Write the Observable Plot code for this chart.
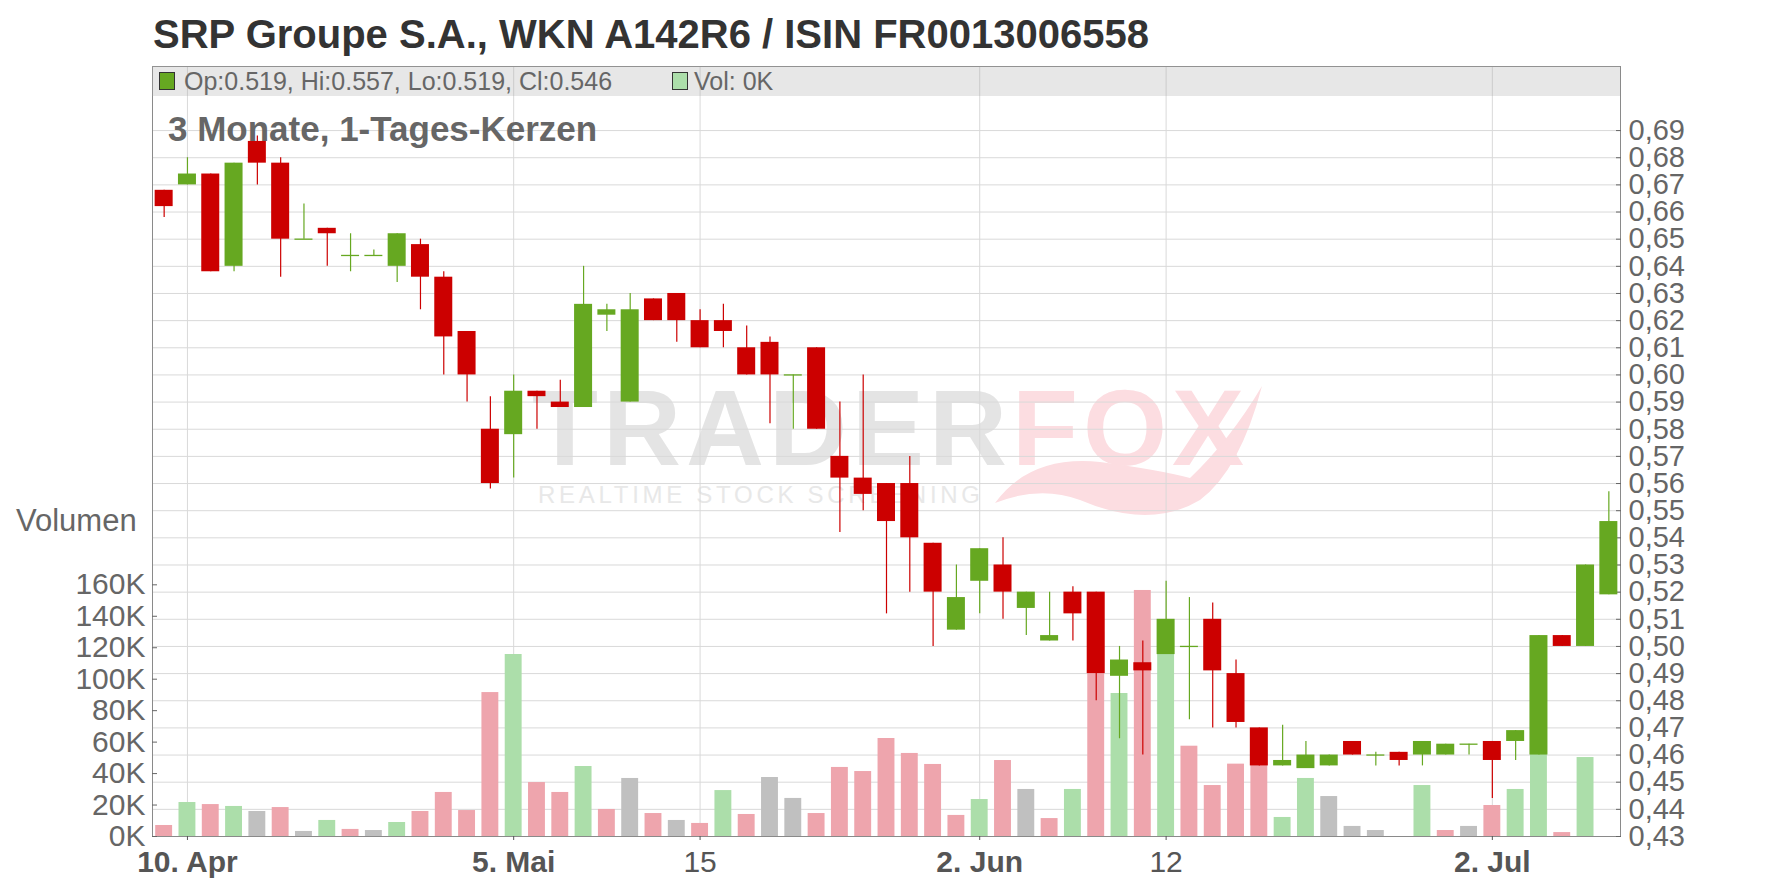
<!DOCTYPE html>
<html>
<head>
<meta charset="utf-8">
<script src="https://cdn.jsdelivr.net/npm/d3@7"></script>
<script src="https://cdn.jsdelivr.net/npm/@observablehq/plot@0.6"></script>
<style>
html,body{margin:0;padding:0;background:#fff;}
body{width:1776px;height:888px;position:relative;overflow:hidden;font-family:"Liberation Sans",Arial,sans-serif;}
#title{position:absolute;left:153px;top:14px;font-size:40px;line-height:40px;font-weight:bold;color:#333;white-space:nowrap;}
#chart{position:absolute;left:0;top:66px;width:1776px;height:822px;}
#chart > svg{position:absolute;left:0;top:0;}
#band{position:absolute;left:152px;top:0;width:1468px;height:30px;background:rgba(170,170,170,0.28);}
.sw{position:absolute;width:16px;height:18px;box-sizing:border-box;border:1px solid #333;}
.lt{position:absolute;font-size:25px;line-height:25px;color:#666;white-space:nowrap;}
#sub{position:absolute;left:168px;top:45px;font-size:35px;line-height:35px;font-weight:bold;color:#666;white-space:nowrap;}
#vollabel{position:absolute;left:16px;top:439px;font-size:31px;line-height:31px;color:#666;white-space:nowrap;}
</style>
</head>
<body>
<div id="title">SRP Groupe S.A., WKN A142R6 / ISIN FR0013006558</div>
<div id="chart">
  <svg id="wm" width="1776" height="822">
    <text x="532" y="399" font-family="Liberation Sans, Arial, sans-serif" font-size="108" font-weight="bold" letter-spacing="5" fill="#e4e4e4">TRADER<tspan fill="#fcdde1">FOX</tspan></text>
    <text x="538" y="436.7" font-family="Liberation Sans, Arial, sans-serif" font-size="24" textLength="442" lengthAdjust="spacing" fill="#e8e8e8">REALTIME STOCK SCREENING</text>
    <path d="M995 437 Q1030 389 1100 396 Q1160 404 1190 412 Q1230 374 1262 320 Q1240 404 1200 434 Q1150 464 1080 434 Q1040 419 995 437 Z" fill="#fcdde1"/>
  </svg>
</div>
<script>
// ---- data ----
const dates = ["2025-04-09","2025-04-10","2025-04-11","2025-04-14","2025-04-15","2025-04-16","2025-04-17","2025-04-22","2025-04-23","2025-04-24","2025-04-25","2025-04-28","2025-04-29","2025-04-30","2025-05-02","2025-05-05","2025-05-06","2025-05-07","2025-05-08","2025-05-09","2025-05-12","2025-05-13","2025-05-14","2025-05-15","2025-05-16","2025-05-19","2025-05-20","2025-05-21","2025-05-22","2025-05-23","2025-05-26","2025-05-27","2025-05-28","2025-05-29","2025-05-30","2025-06-02","2025-06-03","2025-06-04","2025-06-05","2025-06-06","2025-06-09","2025-06-10","2025-06-11","2025-06-12","2025-06-13","2025-06-16","2025-06-17","2025-06-18","2025-06-19","2025-06-20","2025-06-23","2025-06-24","2025-06-25","2025-06-26","2025-06-27","2025-06-30","2025-07-01","2025-07-02","2025-07-03","2025-07-04","2025-07-07","2025-07-08","2025-07-09"];
const open = [0.668,0.670,0.674,0.640,0.686,0.678,0.650,0.654,0.644,0.644,0.640,0.648,0.636,0.616,0.580,0.578,0.594,0.590,0.588,0.622,0.590,0.628,0.630,0.620,0.620,0.610,0.612,0.600,0.610,0.570,0.562,0.560,0.560,0.538,0.506,0.524,0.530,0.514,0.502,0.520,0.520,0.489,0.494,0.497,0.500,0.510,0.490,0.470,0.456,0.455,0.456,0.465,0.460,0.461,0.460,0.460,0.464,0.465,0.465,0.460,0.504,0.500,0.519];
const high = [0.668,0.680,0.674,0.678,0.688,0.680,0.663,0.654,0.652,0.646,0.652,0.650,0.638,0.616,0.592,0.600,0.594,0.598,0.640,0.626,0.630,0.628,0.630,0.624,0.626,0.618,0.614,0.600,0.610,0.590,0.600,0.560,0.570,0.538,0.530,0.536,0.540,0.520,0.520,0.522,0.520,0.500,0.502,0.524,0.518,0.516,0.495,0.470,0.471,0.465,0.460,0.465,0.461,0.461,0.465,0.464,0.464,0.465,0.469,0.504,0.504,0.530,0.557];
const low = [0.658,0.670,0.638,0.638,0.670,0.636,0.650,0.640,0.638,0.644,0.634,0.624,0.600,0.590,0.558,0.562,0.580,0.588,0.588,0.616,0.590,0.620,0.612,0.610,0.610,0.600,0.582,0.580,0.580,0.542,0.550,0.512,0.520,0.500,0.506,0.512,0.510,0.504,0.502,0.502,0.480,0.466,0.460,0.497,0.473,0.470,0.470,0.456,0.456,0.455,0.456,0.460,0.456,0.456,0.456,0.460,0.460,0.444,0.458,0.460,0.500,0.500,0.519];
const close = [0.662,0.674,0.638,0.678,0.678,0.650,0.650,0.652,0.644,0.644,0.652,0.636,0.614,0.600,0.560,0.594,0.592,0.588,0.626,0.624,0.624,0.620,0.620,0.610,0.616,0.600,0.600,0.600,0.580,0.562,0.556,0.546,0.540,0.520,0.518,0.536,0.520,0.520,0.504,0.512,0.490,0.495,0.491,0.510,0.500,0.491,0.472,0.456,0.458,0.460,0.460,0.460,0.460,0.458,0.465,0.464,0.464,0.458,0.469,0.504,0.500,0.530,0.546];
const volume = [7000,21600,20300,19100,15900,18400,3200,10200,4500,3800,8900,15900,28000,16500,91500,115700,34300,28000,44500,17200,36900,14600,10200,8300,29200,14000,37500,24200,14600,43900,41300,62300,52800,45800,13400,23500,48300,29900,11400,29900,130000,90900,156400,125000,57400,32400,46000,55000,12100,36900,25400,6400,3800,0,32400,3800,6400,19700,29900,90000,2500,50200,0];

const priceTicks = [0.43,0.44,0.45,0.46,0.47,0.48,0.49,0.50,0.51,0.52,0.53,0.54,0.55,0.56,0.57,0.58,0.59,0.60,0.61,0.62,0.63,0.64,0.65,0.66,0.67,0.68,0.69];
const volumeTicks = [0,20000,40000,60000,80000,100000,120000,140000,160000];
const xTickDates = ["2025-04-10","2025-05-05","2025-05-15","2025-06-02","2025-06-12","2025-07-02"];
const xTickLabels = ["10. Apr","5. Mai","15","2. Jun","12","2. Jul"];
const xTickBold = [true,true,false,true,false,true];

// ---- styles ----
const UP = "#66a821", DOWN = "#cc0000";
const VOL_UP = "#acdeaa", VOL_DOWN = "#eea5ad", VOL_FLAT = "#c0c0c0";

const data = dates.map((date, i) => {
  const prev = i > 0 ? close[i - 1] : open[i];
  return {
    date, open: open[i], high: high[i], low: low[i], close: close[i], volume: volume[i],
    color: close[i] >= open[i] ? UP : DOWN,
    volColor: close[i] > prev ? VOL_UP : close[i] < prev ? VOL_DOWN : VOL_FLAT
  };
});

const W = 1776, H = 822;
const dims = {width: W, height: H, marginLeft: 152, marginRight: 156, marginTop: 0, marginBottom: 52};
const priceDomain = [0.43, 0.7136];
const volumeDomain = [0, 489500];
const font = "Liberation Sans, Arial, sans-serif";
const svgStyle = {background: "transparent", fontFamily: font, overflow: "visible"};
const xScale = {type: "band", domain: dates, padding: 0, round: false};
const labelOf = d => xTickLabels[xTickDates.indexOf(d)];

// Layer A: grid, frame, price axis, date axis
const layerA = Plot.plot({
  ...dims, style: svgStyle,
  x: xScale,
  y: {domain: priceDomain},
  marks: [
    Plot.gridY({ticks: priceTicks, stroke: "#d9d9d9", strokeOpacity: 1}),
    Plot.gridX({ticks: xTickDates, stroke: "#d9d9d9", strokeOpacity: 1}),
    Plot.frame({stroke: "#8a8a8a"}),
    Plot.axisY({anchor: "right", ticks: priceTicks, tickFormat: d => d.toFixed(2).replace(".", ","),
      tickSize: -5, tickPadding: 13, fontSize: 29, color: "#666", label: null}),
    Plot.axisX({anchor: "bottom", ticks: xTickDates.filter((d, i) => xTickBold[i]), tickFormat: labelOf,
      tickSize: 4, tickPadding: 10, fontSize: 30, fontWeight: "bold", color: "#555", label: null}),
    Plot.axisX({anchor: "bottom", ticks: xTickDates.filter((d, i) => !xTickBold[i]), tickFormat: labelOf,
      tickSize: 4, tickPadding: 10, fontSize: 30, color: "#555", label: null})
  ]
});

// Layer B: volume
const layerB = Plot.plot({
  ...dims, style: svgStyle,
  x: {...xScale, axis: null},
  y: {domain: volumeDomain},
  color: {type: "identity"},
  marks: [
    Plot.barY(data, {x: "date", y: "volume", fill: "volColor", insetLeft: 3.2, insetRight: 3.2}),
    Plot.axisY({anchor: "left", ticks: volumeTicks, tickFormat: d => (d / 1000) + "K",
      tickSize: -5, tickPadding: 12, fontSize: 30, color: "#666", label: null})
  ]
});

// Layer C: candles
const layerC = Plot.plot({
  ...dims, style: svgStyle,
  x: {...xScale, axis: null},
  y: {domain: priceDomain, axis: null},
  color: {type: "identity"},
  marks: [
    Plot.ruleX(data, {x: "date", y1: "low", y2: "high", stroke: "color", strokeWidth: 1.2}),
    Plot.barY(data, {x: "date", y1: "open", y2: "close", fill: "color", insetLeft: 2.65, insetRight: 2.65}),
    Plot.tickY(data.filter(d => d.open === d.close), {x: "date", y: "close", stroke: "color", strokeWidth: 1.3, insetLeft: 2.65, insetRight: 2.65})
  ]
});

const chart = document.getElementById("chart");
chart.appendChild(layerA);
const band = document.createElement("div");
band.id = "band";
chart.appendChild(band);
chart.appendChild(layerB);
chart.appendChild(layerC);

// legend (last candle)
const last = data[data.length - 1];
function el(cls, css, text) {
  const e = document.createElement("div");
  e.className = cls;
  Object.assign(e.style, css);
  if (text != null) e.textContent = text;
  chart.appendChild(e);
  return e;
}
el("sw", {left: "159px", top: "6px", background: last.color});
el("lt", {left: "184px", top: "3px"}, `Op:${last.open.toFixed(3)}, Hi:${last.high.toFixed(3)}, Lo:${last.low.toFixed(3)}, Cl:${last.close.toFixed(3)}`);
el("sw", {left: "672px", top: "6px", background: last.volColor});
el("lt", {left: "694px", top: "3px"}, `Vol: ${Math.round(last.volume / 1000)}K`);

const sub = document.createElement("div");
sub.id = "sub"; sub.textContent = "3 Monate, 1-Tages-Kerzen";
chart.appendChild(sub);
const vl = document.createElement("div");
vl.id = "vollabel"; vl.textContent = "Volumen";
chart.appendChild(vl);
</script>
</body>
</html>
